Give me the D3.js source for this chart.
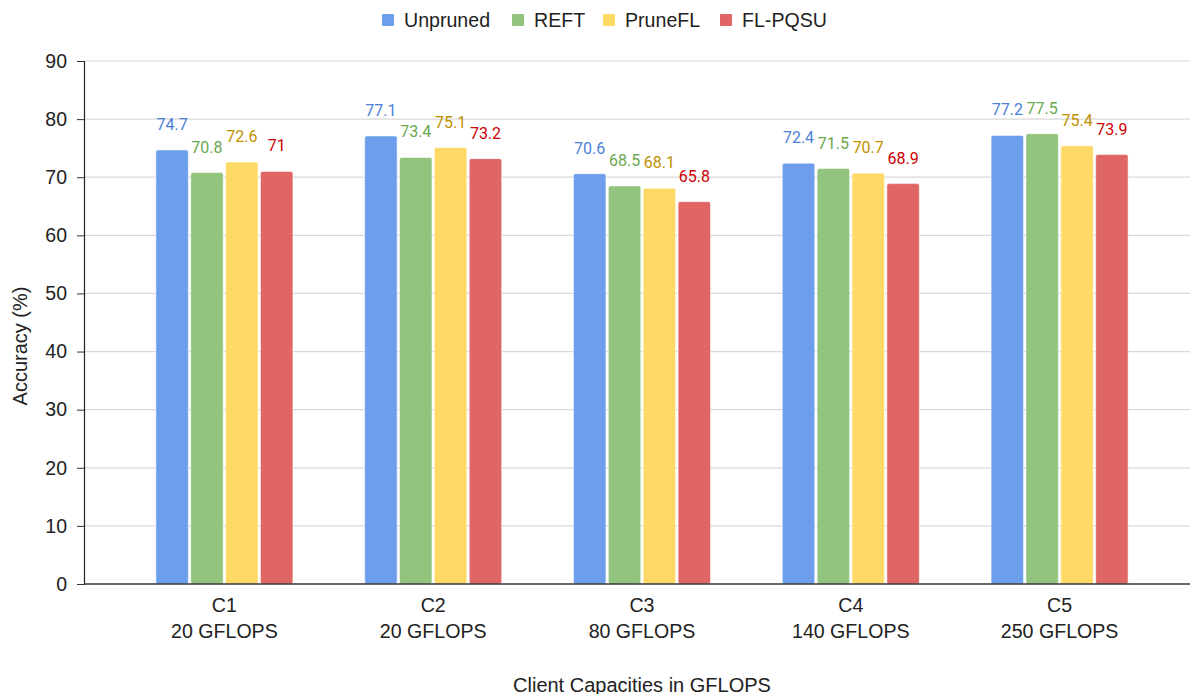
<!DOCTYPE html>
<html>
<head>
<meta charset="utf-8">
<script src="https://cdn.jsdelivr.net/npm/d3@7"></script>
<style>
  html, body { margin: 0; padding: 0; background: #fff; }
  svg { display: block; }
</style>
</head>
<body>
<svg id="chart" width="1190" height="694"></svg>
<script>
// Client groups and their compute capacities
const clients = ["C1", "C2", "C3", "C4", "C5"];
const capacities = ["20 GFLOPS", "20 GFLOPS", "80 GFLOPS", "140 GFLOPS", "250 GFLOPS"];

// Methods compared
const methods = ["Unpruned", "REFT", "PruneFL", "FL-PQSU"];

// Accuracy (%) per method, one value per client
const unpruned = [74.7, 77.1, 70.6, 72.4, 77.2];
const reft     = [70.8, 73.4, 68.5, 71.5, 77.5];
const prunefl  = [72.6, 75.1, 68.1, 70.7, 75.4];
const flpqsu   = [71.0, 73.2, 65.8, 68.9, 73.9];

const yTicks = [0, 10, 20, 30, 40, 50, 60, 70, 80, 90];

const barColors   = ["#6d9eeb", "#93c47d", "#ffd966", "#e06666"];
const labelColors = ["#4a7fd8", "#6aa84f", "#bf9000", "#cc0000"];

const seriesValues = [unpruned, reft, prunefl, flpqsu];
const rows = clients.map((c, i) => ({
  client: c,
  capacity: capacities[i],
  values: methods.map((m, j) => ({ method: m, value: seriesValues[j][i], k: j }))
}));

const svg = d3.select("#chart");
const plotLeft = 84, plotRight = 1190, plotTop = 61, plotBottom = 584;

const y = d3.scaleLinear().domain([0, 90]).range([plotBottom, plotTop]);
const x0 = d3.scaleBand().domain(clients).range([120, 1164]);
const x1 = d3.scaleBand().domain(methods).range([0, 137]).paddingInner(0.07);

const tickFont = "Liberation Sans, Arial, sans-serif";

// Horizontal gridlines
svg.append("g")
  .selectAll("line")
  .data(yTicks.filter(t => t > 0))
  .join("line")
  .attr("x1", plotLeft).attr("x2", plotRight)
  .attr("y1", d => y(d)).attr("y2", d => y(d))
  .attr("stroke", "#d9d9d9").attr("stroke-width", 1.2);

// Y axis with outward ticks
const yAxis = svg.append("g")
  .attr("transform", `translate(${plotLeft},0)`)
  .call(d3.axisLeft(y).tickValues(yTicks).tickSize(7).tickPadding(10));
yAxis.select(".domain").attr("stroke", "#222").attr("stroke-width", 1.2);
yAxis.selectAll(".tick line").attr("stroke", "#333");
yAxis.selectAll(".tick text")
  .attr("font-family", tickFont).attr("font-size", 19.5).attr("fill", "#222");

// Bars
const groups = svg.append("g")
  .selectAll("g")
  .data(rows)
  .join("g")
  .attr("transform", d => `translate(${x0(d.client) + (x0.bandwidth() - 137) / 2},0)`);

groups.selectAll("rect")
  .data(d => d.values)
  .join("rect")
  .attr("x", d => x1(d.method))
  .attr("y", d => y(d.value))
  .attr("width", x1.bandwidth())
  .attr("height", d => plotBottom - y(d.value))
  .attr("rx", 2)
  .attr("fill", d => barColors[d.k])
  .attr("stroke", "rgba(255,255,255,0.5)")
  .attr("stroke-width", 1);

// Value labels above bars
groups.selectAll("text")
  .data(d => d.values)
  .join("text")
  .attr("x", d => x1(d.method) + x1.bandwidth() / 2)
  .attr("y", d => y(d.value) - 20)
  .attr("text-anchor", "middle")
  .attr("font-family", "Roboto, sans-serif")
  .attr("font-size", 16)
  .attr("fill", d => labelColors[d.k])
  .text(d => d3.format("~f")(d.value));

// Baseline
svg.append("line")
  .attr("x1", plotLeft).attr("x2", plotRight)
  .attr("y1", plotBottom).attr("y2", plotBottom)
  .attr("stroke", "#333").attr("stroke-width", 1.6);

// Category labels
const cat = svg.append("g")
  .selectAll("text")
  .data(rows)
  .join("text")
  .attr("x", d => x0(d.client) + x0.bandwidth() / 2)
  .attr("text-anchor", "middle")
  .attr("font-family", tickFont).attr("font-size", 19.6).attr("fill", "#222");
cat.append("tspan").attr("x", d => x0(d.client) + x0.bandwidth() / 2).attr("y", 612).text(d => d.client);
cat.append("tspan").attr("x", d => x0(d.client) + x0.bandwidth() / 2).attr("y", 638).text(d => d.capacity);

// Axis titles
svg.append("text")
  .attr("x", 642).attr("y", 692)
  .attr("text-anchor", "middle")
  .attr("font-family", tickFont).attr("font-size", 20).attr("fill", "#222")
  .text("Client Capacities in GFLOPS");

svg.append("text")
  .attr("transform", "translate(27,346) rotate(-90)")
  .attr("text-anchor", "middle")
  .attr("font-family", tickFont).attr("font-size", 20).attr("fill", "#222")
  .text("Accuracy (%)");

// Legend
const legendX = [382, 512, 603, 720];
const legend = svg.append("g")
  .selectAll("g")
  .data(methods)
  .join("g")
  .attr("transform", (d, i) => `translate(${legendX[i]},14)`);
legend.append("rect")
  .attr("width", 12).attr("height", 12).attr("rx", 1)
  .attr("fill", (d, i) => barColors[i]);
legend.append("text")
  .attr("x", 22).attr("y", 13)
  .attr("font-family", tickFont).attr("font-size", 19.6).attr("fill", "#222")
  .text(d => d);
</script>
</body>
</html>
